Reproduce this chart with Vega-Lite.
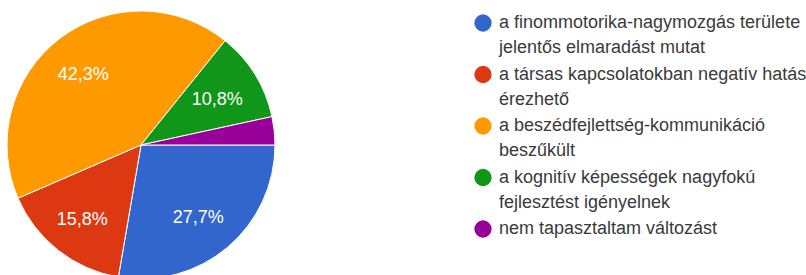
{
  "$schema": "https://vega.github.io/schema/vega-lite/v6.json",
  "width": 282,
  "height": 290,
  "autosize": {"type": "pad"},
  "padding": 0,
  "background": "white",
  "config": {
    "view": {"stroke": null},
    "locale": {"number": {"decimal": ",", "thousands": " ", "grouping": [3], "currency": ["", " Ft"]}},
    "style": {"guide-label": {"lineHeight": 25}}
  },
  "data": {
    "values": [
      {"cat": "a finommotorika-nagymozgás területe\njelentős elmaradást mutat", "v": 0.277, "o": 1},
      {"cat": "a társas kapcsolatokban negatív hatás\nérezhető", "v": 0.158, "o": 2},
      {"cat": "a beszédfejlettség-kommunikáció\nbeszűkült", "v": 0.423, "o": 3},
      {"cat": "a kognitív képességek nagyfokú\nfejlesztést igényelnek", "v": 0.108, "o": 4},
      {"cat": "nem tapasztaltam változást", "v": 0.034, "o": 5}
    ]
  },
  "encoding": {
    "theta": {"field": "v", "type": "quantitative", "stack": true, "scale": {"range": [1.5708, 7.854]}},
    "order": {"field": "o", "type": "quantitative"},
    "color": {
      "field": "cat",
      "type": "nominal",
      "scale": {
        "domain": [
          "a finommotorika-nagymozgás területe\njelentős elmaradást mutat",
          "a társas kapcsolatokban negatív hatás\nérezhető",
          "a beszédfejlettség-kommunikáció\nbeszűkült",
          "a kognitív képességek nagyfokú\nfejlesztést igényelnek",
          "nem tapasztaltam változást"
        ],
        "range": ["#3366cc", "#dc3912", "#ff9900", "#109618", "#990099"]
      },
      "legend": {
        "title": null,
        "orient": "none",
        "legendX": 474,
        "legendY": 14,
        "symbolType": "circle",
        "symbolSize": 300,
        "symbolStrokeWidth": 0,
        "labelFont": "Liberation Sans",
        "labelFontSize": 18,
        "labelColor": "#3a3a3a",
        "labelLimit": 400,
        "labelOffset": 7,
        "rowPadding": 8.5,
        "labelExpr": "split(datum.label, '\\n')"
      }
    }
  },
  "layer": [
    {"mark": {"type": "arc", "outerRadius": 134, "stroke": "white", "strokeWidth": 1}},
    {
      "mark": {"type": "text", "radius": 92, "dx": -2, "dy": 3, "fill": "white", "fontSize": 18, "font": "Liberation Sans"},
      "encoding": {
        "text": {"condition": {"test": "datum.v < 0.05", "value": ""}, "field": "v", "type": "quantitative", "format": ".1%"}
      }
    }
  ]
}
